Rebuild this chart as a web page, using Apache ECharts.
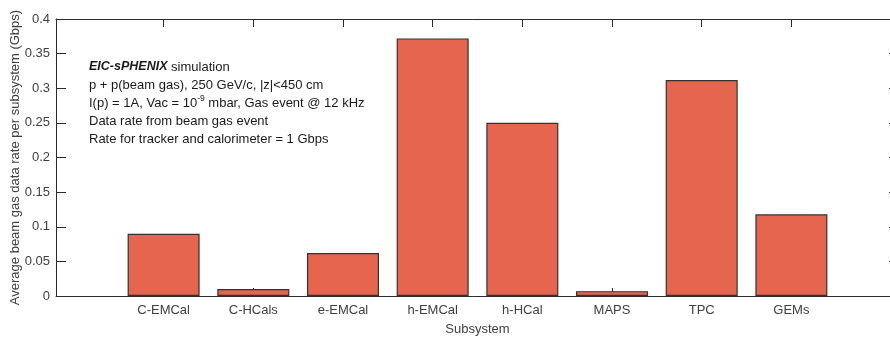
<!DOCTYPE html>
<html>
<head>
<meta charset="utf-8">
<script src="https://cdn.jsdelivr.net/npm/echarts@6/dist/echarts.min.js"></script>
<style>
  html, body { margin: 0; padding: 0; background: #fff; }
  #chart { width: 890px; height: 338px; }
</style>
</head>
<body>
<div id="chart"></div>
<script>
// Subsystems and their average beam-gas data rate (Gbps)
const subsystems = ['C-EMCal', 'C-HCals', 'e-EMCal', 'h-EMCal', 'h-HCal', 'MAPS', 'TPC', 'GEMs'];
const dataRate = [0.09, 0.01, 0.062, 0.372, 0.25, 0.007, 0.312, 0.118];
const yTicks = [0, 0.05, 0.1, 0.15, 0.2, 0.25, 0.3, 0.35, 0.4];

const positions = subsystems.map((_, i) => i);
const barData = dataRate.map((v, i) => [positions[i], v]);

const axisColor = '#2b2b2b';
const textColor = '#404040';
const font = 'Liberation Sans, Arial, Helvetica, sans-serif';

const chart = echarts.init(document.getElementById('chart'), null, { renderer: 'canvas' });

const xBase = {
  type: 'value',
  min: -1.2,
  max: 8.2,
  splitLine: { show: false },
  axisLine: { show: true, onZero: false, lineStyle: { color: axisColor, width: 1 } },
  axisTick: { show: true, inside: true, length: 8, customValues: positions,
              lineStyle: { color: axisColor, width: 1 } }
};

const yBase = {
  type: 'value',
  min: 0, max: 0.4, interval: 0.05,
  splitLine: { show: false },
  axisLine: { show: true, onZero: false, lineStyle: { color: axisColor, width: 1 } },
  axisTick: { show: true, inside: true, length: 10, customValues: yTicks,
              lineStyle: { color: axisColor, width: 1 } }
};

chart.setOption({
  animation: false,
  grid: { left: 56, top: 19, width: 843, height: 277, containLabel: false, outerBoundsMode: 'none' },
  xAxis: [
    Object.assign({}, xBase, {
      position: 'bottom',
      name: 'Subsystem',
      nameLocation: 'middle',
      nameGap: 27,
      nameMoveOverlap: false,
      nameTextStyle: { color: textColor, fontSize: 13, fontFamily: font },
      axisLabel: {
        show: true, margin: 8, color: textColor, fontSize: 13, fontFamily: font,
        customValues: positions,
        formatter: v => subsystems[Math.round(v)] || ''
      }
    }),
    Object.assign({}, xBase, {
      position: 'top',
      axisLabel: { show: false }
    })
  ],
  yAxis: [
    Object.assign({}, yBase, {
      position: 'left',
      name: 'Average beam gas data rate per subsystem (Gbps)',
      nameLocation: 'middle',
      nameGap: 34,
      nameMoveOverlap: false,
      nameTextStyle: { color: textColor, fontSize: 13, fontFamily: font },
      axisLabel: { color: textColor, fontSize: 13, fontFamily: font, margin: 6,
                   customValues: yTicks, formatter: v => String(+v.toFixed(2)) }
    }),
    Object.assign({}, yBase, {
      position: 'right',
      axisLabel: { show: false }
    })
  ],
  series: [{
    type: 'bar',
    xAxisIndex: 0,
    yAxisIndex: 0,
    data: barData,
    barWidth: 72,
    itemStyle: { color: '#e5654e', borderColor: '#333333', borderWidth: 1.2 }
  }],
  graphic: [{
    type: 'text',
    left: 89,
    top: 58,
    z: 10,
    style: {
      text: [
        '{b|EIC-sPHENIX} simulation',
        'p + p(beam gas), 250 GeV/c, |z|<450 cm',
        'I(p) = 1A, Vac = 10{sup|-9} mbar, Gas event @ 12 kHz',
        'Data rate from beam gas event',
        'Rate for tracker and calorimeter = 1 Gbps'
      ].join('\n'),
      fill: '#1a1a1a',
      fontSize: 13,
      fontFamily: font,
      lineHeight: 18,
      rich: {
        b: { fontWeight: 'bold', fontStyle: 'italic', fontSize: 12.5, fontFamily: font, fill: '#1a1a1a', lineHeight: 18 },
        sup: { fontSize: 8.5, fontFamily: font, fill: '#1a1a1a', padding: [0, 0, 9, 0], lineHeight: 18 }
      }
    }
  }]
});
</script>
</body>
</html>
